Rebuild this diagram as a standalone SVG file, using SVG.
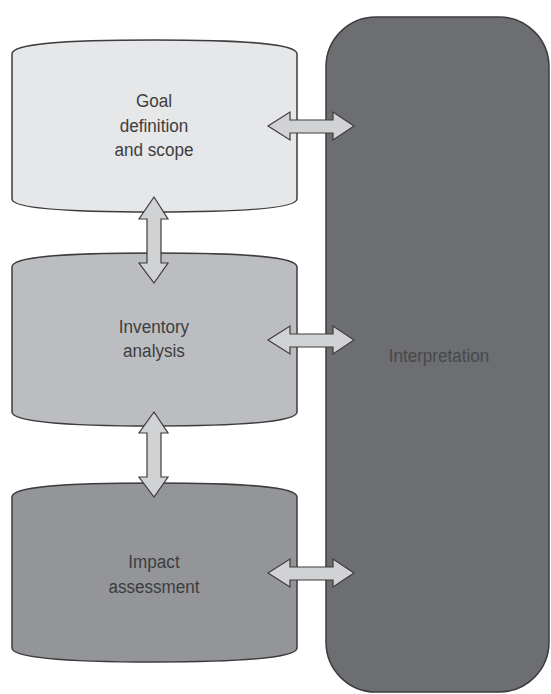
<svg xmlns="http://www.w3.org/2000/svg" width="551" height="694" viewBox="0 0 551 694">
<style>
.box{stroke:#3c3c3e;stroke-width:1.5}
.arr{fill:#d1d2d4;stroke:#3c3c3e;stroke-width:1.2;stroke-linejoin:miter}
.t{font-family:"Liberation Sans",Arial,sans-serif;font-size:19px;fill:#3d3d3f;text-anchor:middle}
</style>
<rect width="551" height="694" fill="#ffffff"/>
<g id="interpretation">
<rect class="box" x="326" y="17" width="223" height="675" rx="50" ry="50" fill="#6d6e71"/>
<text class="t" x="439" y="362" fill="#48484a" style="fill:#48484a" transform="translate(439 0) scale(0.9 1) translate(-439 0)">Interpretation</text>
</g>
<g id="goal">
<path class="box" fill="#e6e7e8" d="M12,54 C12,44 60,40 154,40 C248,40 297,44 297,54 L297,199 C297,208 248,212 154,212 C60,212 12,208 12,199 Z"/>
<g transform="translate(154 0) scale(0.9 1) translate(-154 0)">
<text class="t" x="154" y="107">Goal</text>
<text class="t" x="154" y="132">definition</text>
<text class="t" x="154" y="156">and scope</text>
</g>
</g>
<g id="inventory">
<path class="box" fill="#bcbdc0" d="M12,267 C12,257 60,253 154,253 C248,253 297,257 297,267 L297,412 C297,421 248,426 154,426 C60,426 12,421 12,412 Z"/>
<g transform="translate(154 0) scale(0.9 1) translate(-154 0)">
<text class="t" x="154" y="333">Inventory</text>
<text class="t" x="154" y="357">analysis</text>
</g>
</g>
<g id="impact">
<path class="box" fill="#939598" d="M12,497 C12,487 60,483 154,483 C248,483 297,487 297,497 L297,648 C297,657 248,662 154,662 C60,662 12,657 12,648 Z"/>
<g transform="translate(154 0) scale(0.9 1) translate(-154 0)">
<text class="t" x="154" y="568">Impact</text>
<text class="t" x="154" y="593">assessment</text>
</g>
</g>
<g id="connectors">
<path class="arr" d="M268,126 L290,112 L290,120 L333,120 L333,112 L354,126 L333,140 L333,133 L290,133 L290,140 Z"/>
<path class="arr" d="M268,340 L290,326 L290,334 L333,334 L333,326 L354,340 L333,354 L333,347 L290,347 L290,354 Z"/>
<path class="arr" d="M268,573 L290,559 L290,567 L333,567 L333,559 L354,573 L333,587 L333,580 L290,580 L290,587 Z"/>
<path class="arr" d="M154,197 L168,219 L161,219 L161,263 L168,263 L154,283 L139,263 L147,263 L147,219 L139,219 Z"/>
<path class="arr" d="M154,412 L168,433 L161,433 L161,477 L168,477 L154,497 L139,477 L147,477 L147,433 L139,433 Z"/>
</g>
</svg>
